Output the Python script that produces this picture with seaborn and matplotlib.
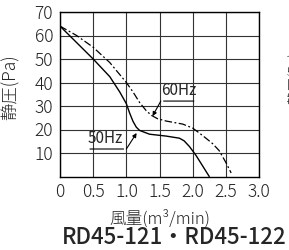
import matplotlib
matplotlib.use("Agg")
import matplotlib.pyplot as plt
import seaborn as sns

# curve values
flow_50 = [0, 0.25, 0.5, 0.75, 0.9, 1.0, 1.05, 1.1, 1.15, 1.2, 1.35, 1.6, 1.8, 1.87, 1.95, 2.05, 2.25]
pres_50 = [64, 57, 50, 42.5, 36, 31, 27, 23.5, 21, 19.6, 18, 17.2, 16.3, 15.2, 12.8, 9, 0]

flow_60 = [0, 0.25, 0.5, 0.75, 1.0, 1.1, 1.2, 1.3, 1.38, 1.47, 1.6, 1.85, 2.0, 2.1, 2.2, 2.3, 2.4, 2.5, 2.58]
pres_60 = [64, 60, 55, 48.5, 40, 36, 31.5, 28, 26, 24.6, 23.6, 22.3, 20.6, 18.5, 16.3, 14, 11, 6, 1.5]

x_ticks = [0, 0.5, 1.0, 1.5, 2.0, 2.5, 3.0]
x_labels = ["0", "0.5", "1.0", "1.5", "2.0", "2.5", "3.0"]
y_ticks = [10, 20, 30, 40, 50, 60, 70]

sns.set_style("white")
plt.rcParams['font.family'] = ['Noto Sans CJK JP', 'DejaVu Sans']

fig = plt.figure(figsize=(2.89, 2.5), dpi=100)
ax = fig.add_axes([60 / 289, 1 - 176.5 / 250, 199 / 289, 164.5 / 250])

sns.lineplot(x=flow_50, y=pres_50, ax=ax, color="black", lw=1.0)
sns.lineplot(x=flow_60, y=pres_60, ax=ax, color="black", lw=0.9,
             linestyle=(0, (6, 2, 1.5, 2)))

ax.set_xlim(0, 3.0)
ax.set_ylim(0, 70)
ax.set_xticks(x_ticks)
ax.set_xticklabels(x_labels)
ax.set_yticks(y_ticks)
ax.tick_params(length=0, labelsize=12.5, pad=5)
for lab in ax.get_xticklabels() + ax.get_yticklabels():
    lab.set_fontweight("light")
    lab.set_color("#222222")

ax.grid(True, color="#333333", lw=0.8)
for s in ax.spines.values():
    s.set_color("black")
    s.set_linewidth(1.0)

ax.set_ylabel("静圧(Pa)", fontsize=12.5, fontweight="light")
ax.yaxis.set_label_coords(-0.205, 0.54)
ax.set_xlabel("風量(m³/min)", fontsize=12, fontweight="light")
ax.xaxis.set_label_coords(0.5, -0.2)

# curve labels with underline and leader arrow
ax.text(1.52, 32.8, "60Hz", fontsize=11, va="bottom", ha="left")
ax.annotate("", xy=(2.06, 32.1), xytext=(1.52, 32.1),
            arrowprops=dict(arrowstyle="-", lw=0.8, color="black"))
ax.annotate("", xy=(1.395, 25.7), xytext=(1.52, 32.1),
            arrowprops=dict(arrowstyle="-|>", lw=0.8, color="black",
                            mutation_scale=6, shrinkA=0, shrinkB=0))
ax.text(0.41, 12.4, "50Hz", fontsize=11, va="bottom", ha="left")
ax.annotate("", xy=(1.0, 11.7), xytext=(0.41, 11.7),
            arrowprops=dict(arrowstyle="-", lw=0.8, color="black"))
ax.annotate("", xy=(1.155, 18.5), xytext=(1.0, 11.7),
            arrowprops=dict(arrowstyle="-|>", lw=0.8, color="black",
                            mutation_scale=6, shrinkA=0, shrinkB=0))

fig.text(174 / 289, 1 - 238 / 250, "RD45-121・RD45-122", fontsize=16,
         fontweight="medium", ha="center", va="center")
# neighbouring chart's label clipped at the right edge
fig.text(294 / 289, 1 - 78 / 250, "静圧(Pa)", fontsize=10, rotation=90,
         ha="center", va="center", fontweight="light")

fig.savefig("out.png", dpi=100)
plt.close(fig)
